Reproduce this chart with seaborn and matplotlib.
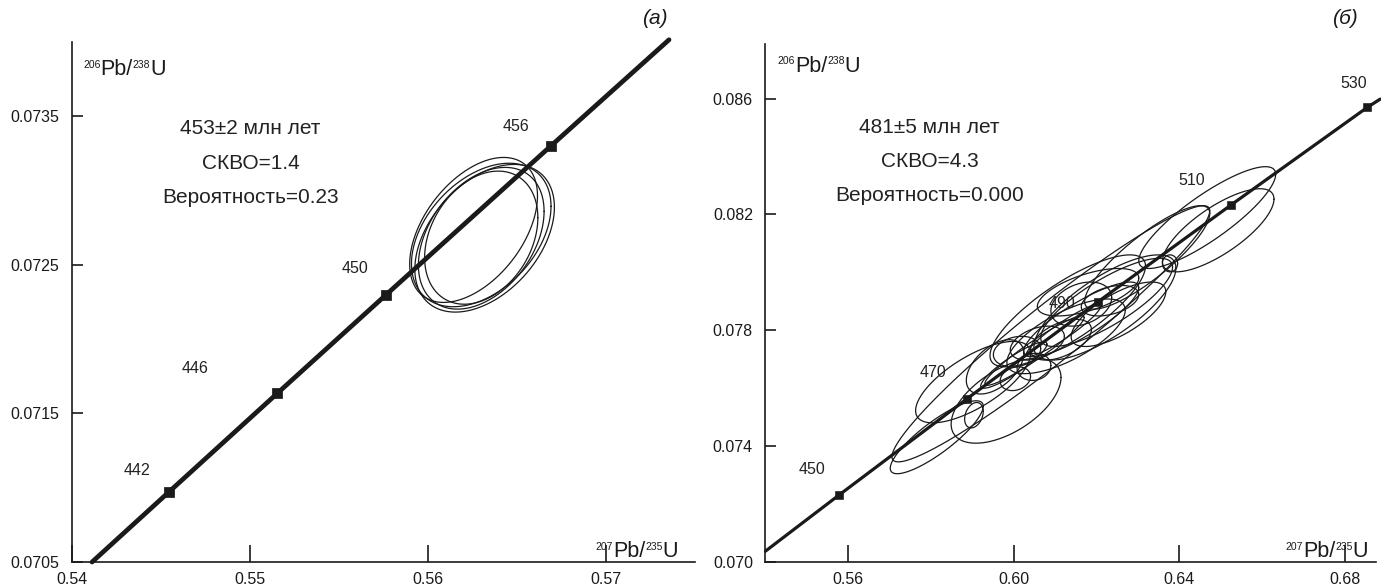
import numpy as np
import matplotlib
matplotlib.use("Agg")
import matplotlib.pyplot as plt
import matplotlib.transforms as mtransforms
import seaborn as sns
import pandas as pd

# ---------------- data ----------------
# panel (a): concordia trace and age marks
a_line_x = [0.54113, 0.545433, 0.551532, 0.557657, 0.566889, 0.573538]
a_line_y = [0.070500, 0.070970, 0.071635, 0.072300, 0.073299, 0.074015]
a_ages = ["442", "446", "450", "456"]
a_mark_x = [0.545433, 0.551532, 0.557657, 0.566889]
a_mark_y = [0.070970, 0.071635, 0.072300, 0.073299]
a_lab_x = [0.54364, 0.54689, 0.55591, 0.56493]
a_lab_y = [0.071117, 0.071802, 0.072473, 0.073433]
# error ellipses: centre x, centre y, sigma x, sigma y, correlation
a_ell_cx = [0.56256, 0.56318, 0.56299, 0.56299, 0.56299]
a_ell_cy = [0.072735, 0.072679, 0.072701, 0.072683, 0.072679]
a_ell_sx = [0.00359, 0.00392, 0.00392, 0.00318, 0.00353]
a_ell_sy = [0.000488, 0.000497, 0.000483, 0.000448, 0.000477]
a_ell_r = [0.47, 0.42, 0.40, 0.30, 0.38]
a_text = ["453±2 млн лет", "СКВО=1.4", "Вероятность=0.23"]

# panel (б)
b_line_x = [0.54000, 0.557657, 0.588642, 0.620243, 0.652474, 0.685346, 0.68850]
b_line_y = [0.070376, 0.072300, 0.075632, 0.078975, 0.082327, 0.085691, 0.08598]
b_ages = ["450", "470", "490", "510", "530"]
b_mark_x = [0.557657, 0.588642, 0.620243, 0.652474, 0.685346]
b_mark_y = [0.072300, 0.075632, 0.078975, 0.082327, 0.085691]
b_lab_x = [0.55120, 0.58036, 0.61169, 0.64301, 0.68205]
b_lab_y = [0.073179, 0.076531, 0.078916, 0.083166, 0.086518]
b_ell_cx = [0.58137, 0.59015, 0.59812, 0.60894, 0.61302, 0.62201, 0.61629,
            0.62323, 0.61139, 0.60077, 0.60486, 0.60036, 0.59036, 0.64672,
            0.64937, 0.63773, 0.63222, 0.62242, 0.62528, 0.61629, 0.61262,
            0.60567, 0.61793, 0.59546, 0.60500, 0.61200, 0.60000]
b_ell_cy = [0.074307, 0.076210, 0.075566, 0.077879, 0.078670, 0.078787, 0.078904,
            0.079022, 0.077674, 0.077264, 0.076737, 0.076327, 0.075068, 0.081891,
            0.081452, 0.080310, 0.080515, 0.078963, 0.078553, 0.078377, 0.077792,
            0.077557, 0.079314, 0.076737, 0.077300, 0.078000, 0.076800]
b_ell_sx = [0.01123, 0.013886, 0.013273, 0.03839, 0.018786, 0.017153, 0.007351,
            0.006943, 0.007351, 0.005718, 0.004084, 0.003676, 0.002246, 0.01654,
            0.013477, 0.001838, 0.015111, 0.015928, 0.011435, 0.013886, 0.014294,
            0.006534, 0.012252, 0.006943, 0.012000, 0.009000, 0.008000]
b_ell_sy = [0.001259, 0.001406, 0.001464, 0.004422, 0.001933, 0.001816, 0.000761,
            0.000527, 0.000703, 0.000527, 0.000469, 0.000410, 0.000439, 0.001757,
            0.001435, 0.000293, 0.001786, 0.001523, 0.001113, 0.001289, 0.001289,
            0.000586, 0.000820, 0.000937, 0.001200, 0.000900, 0.000800]
b_ell_r = [0.85, 0.70, 0.55, 0.96, 0.80, 0.75, 0.30,
           0.40, 0.50, 0.20, 0.10, 0.20, 0.30, 0.85,
           0.75, 0.00, 0.85, 0.80, 0.70, 0.85, 0.70,
           0.40, 0.60, 0.50, 0.95, 0.93, 0.90]
b_text = ["481±5 млн лет", "СКВО=4.3", "Вероятность=0.000"]

a_xticks = [0.54, 0.55, 0.56, 0.57]
a_yticks = [0.0705, 0.0715, 0.0725, 0.0735]
b_xticks = [0.56, 0.60, 0.64, 0.68]
b_yticks = [0.070, 0.074, 0.078, 0.082, 0.086]

y_label_parts = [("206", True), ("Pb/", False), ("238", True), ("U", False)]
x_label_parts = [("207", True), ("Pb/", False), ("235", True), ("U", False)]

# ---------------- style ----------------
sns.set_theme(style="ticks")
plt.rcParams['font.family'] = ['Liberation Sans', 'DejaVu Sans']

INK = '#1a1a1a'
fig = plt.figure(figsize=(13.81, 5.88), dpi=100)
axA = fig.add_axes([0.0521, 0.0442, 0.4512, 0.8844])
axB = fig.add_axes([0.5543, 0.0442, 0.4421, 0.8818])

t = np.linspace(0, 2 * np.pi, 300)


def draw_panel(ax, lx, ly, mx, my, ages, labx, laby, cx, cy, sx, sy, rr,
               lw, ms, texts, tx, ty, xlim, ylim, xt, yt, xfmt, yfmt):
    for i in range(len(cx)):
        ex = cx[i] + sx[i] * np.cos(t)
        ey = cy[i] + sy[i] * (rr[i] * np.cos(t) + np.sqrt(1 - rr[i] ** 2) * np.sin(t))
        ax.plot(ex, ey, color=INK, lw=0.9, zorder=2)
    dfl = pd.DataFrame({'x': lx, 'y': ly})
    sns.lineplot(data=dfl, x='x', y='y', sort=False, estimator=None, ax=ax,
                 color=INK, lw=lw, zorder=3, clip_on=False)
    dfm = pd.DataFrame({'x': mx, 'y': my})
    sns.scatterplot(data=dfm, x='x', y='y', marker='s', s=ms, color=INK,
                    edgecolor=INK, ax=ax, zorder=4)
    for a, x, y in zip(ages, labx, laby):
        ax.text(x, y, a, ha='center', va='center', fontsize=11.5, color='#222222')
    for s, y in zip(texts, ty):
        ax.text(tx, y, s, ha='center', va='center', fontsize=15, color='#222222')
    ax.set_xlim(*xlim)
    ax.set_ylim(*ylim)
    ax.set_xticks(xt)
    ax.set_yticks(yt)
    ax.set_xticklabels([xfmt.format(v) for v in xt])
    ax.set_yticklabels([yfmt.format(v) for v in yt])
    ax.set_xlabel('')
    ax.set_ylabel('')
    for sp in ['top', 'right']:
        ax.spines[sp].set_visible(False)
    for sp in ['left', 'bottom']:
        ax.spines[sp].set_linewidth(1.2)
        ax.spines[sp].set_color(INK)
    ax.tick_params(axis='x', direction='in', length=12, width=1.2, pad=7,
                   labelsize=11.5, colors=INK)
    ax.tick_params(axis='y', direction='in', length=8, width=1.2, pad=9,
                   labelsize=11.5, colors=INK)


draw_panel(axA, a_line_x, a_line_y, a_mark_x, a_mark_y, a_ages, a_lab_x, a_lab_y,
           a_ell_cx, a_ell_cy, a_ell_sx, a_ell_sy, a_ell_r, 3.4, 45,
           a_text, 0.55003, [0.073419, 0.073185, 0.072956],
           (0.54, 0.575), (0.0705, 0.0740), a_xticks, a_yticks, "{:.2f}", "{:.4f}")
draw_panel(axB, b_line_x, b_line_y, b_mark_x, b_mark_y, b_ages, b_lab_x, b_lab_y,
           b_ell_cx, b_ell_cy, b_ell_sx, b_ell_sy, b_ell_r, 2.3, 30,
           b_text, 0.57964, [0.085000, 0.083823, 0.082648],
           (0.54, 0.6875), (0.070, 0.0879), b_xticks, b_yticks, "{:.2f}", "{:.3f}")

renderer = fig.canvas.get_renderer()
MAIN, SUP, RAISE = 15.5, 7.5, 7.5


def rich_label(ax, x, y, parts, ha='left'):
    widths = []
    for s, sup in parts:
        tmp = fig.text(0, 0, s, fontsize=SUP if sup else MAIN)
        widths.append(tmp.get_window_extent(renderer).width)
        tmp.remove()
    total = sum(widths)
    dx = -total if ha == 'right' else 0.0
    for (s, sup), w in zip(parts, widths):
        tr = mtransforms.offset_copy(ax.transAxes, fig=fig, x=dx,
                                     y=RAISE if sup else 0, units='dots')
        ax.text(x, y, s, transform=tr, ha='left', va='baseline',
                fontsize=SUP if sup else MAIN, color=INK)
        dx += w


rich_label(axA, 0.018, 0.9365, y_label_parts)
rich_label(axA, 0.9727, 0.0087, x_label_parts, ha='right')
rich_label(axB, 0.02, 0.946, y_label_parts)
rich_label(axB, 0.987, 0.0087, x_label_parts, ha='right')

fig.text(0.4743, 0.969, '(а)', ha='center', va='center', fontsize=15,
         style='italic', color=INK)
fig.text(0.974, 0.969, '(б)', ha='center', va='center', fontsize=15,
         style='italic', color=INK)

fig.savefig('out.png', dpi=100, facecolor='white')
